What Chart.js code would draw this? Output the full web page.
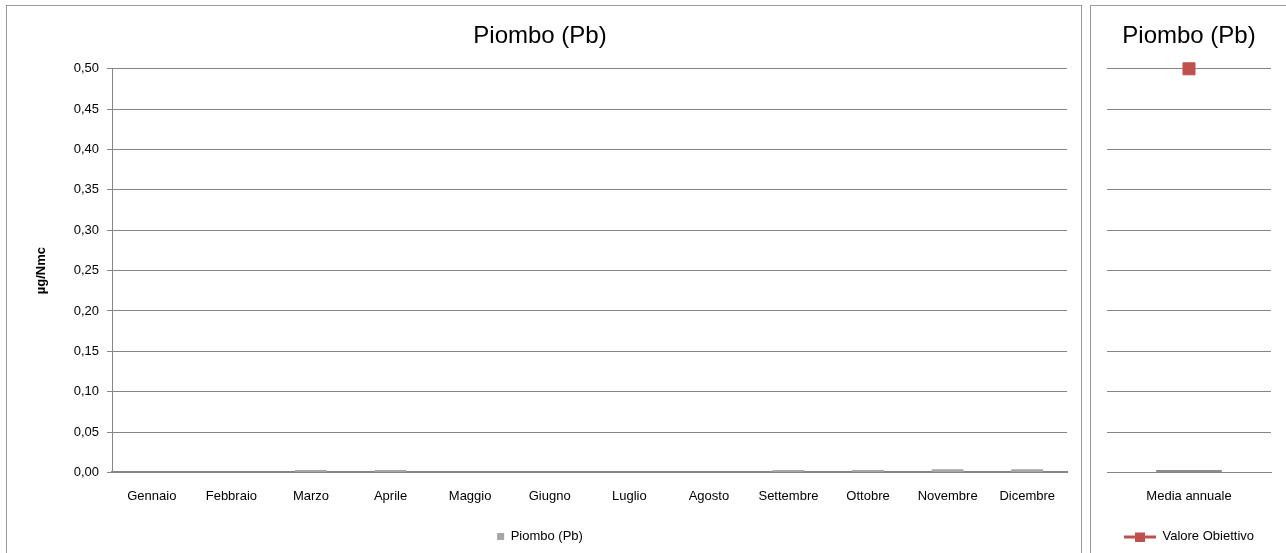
<!DOCTYPE html>
<html>
<head>
<meta charset="utf-8">
<script src="https://cdn.jsdelivr.net/npm/chart.js@4.4.1/dist/chart.umd.min.js"></script>
<style>
  html, body { margin: 0; padding: 0; background: #fff; overflow: hidden; }
  .panel { position: absolute; border: 1px solid #9a9a9a; background: #fff; }
  #p1 { left: 6px; top: 5px; width: 1074px; height: 560px; }
  #p2 { left: 1090px; top: 5px; width: 200px; height: 560px; }
  canvas { position: absolute; left: 0; top: 0; }
</style>
</head>
<body>
<div class="panel" id="p1"><canvas id="c1" width="1074" height="547"></canvas></div>
<div class="panel" id="p2"><canvas id="c2" width="200" height="547"></canvas></div>
<script>
// dati
var mesi = ["Gennaio", "Febbraio", "Marzo", "Aprile", "Maggio", "Giugno",
            "Luglio", "Agosto", "Settembre", "Ottobre", "Novembre", "Dicembre"];
var piombo = [null, null, 0.003, 0.003, null, null, null, null, 0.003, 0.003, 0.004, 0.004];
var mediaLabel = ["Media annuale"];
var mediaAnnuale = [0.003];
var valoreObiettivo = [0.5];
var yMax = 0.5, yStep = 0.05;

var FONT = "'Liberation Sans', Arial, sans-serif";
Chart.defaults.font.family = FONT;
Chart.defaults.color = "#000";
Chart.defaults.animation = false;

function fmt(v) { return v.toFixed(2).replace(".", ","); }
function extraHeight(s) { s.height += 11; }

new Chart(document.getElementById("c1"), {
    type: "bar",
    data: {
        labels: mesi,
        datasets: [{
            label: "Piombo (Pb)",
            data: piombo,
            backgroundColor: "#a6a6a6",
            categoryPercentage: 1,
            barPercentage: 0.4
        }]
    },
    options: {
        responsive: false,
        layout: { padding: { left: 6, right: 14, bottom: 0 } },
        plugins: {
            title: {
                display: true,
                text: "Piombo (Pb)",
                font: { size: 24, weight: "normal" },
                color: "#000",
                padding: { top: 16, bottom: 18 }
            },
            legend: {
                position: "bottom",
                labels: {
                    usePointStyle: true,
                    pointStyle: "rect",
                    boxWidth: 7, boxHeight: 7,
                    font: { size: 13 },
                    padding: 7
                }
            },
            tooltip: { enabled: false }
        },
        scales: {
            x: {
                afterFit: extraHeight,
                grid: { display: false },
                border: { color: "#868686", width: 2 },
                ticks: { font: { size: 13 }, padding: 8, maxRotation: 0 }
            },
            y: {
                min: 0, max: yMax,
                afterFit: function (s) { s.width = 99; },
                title: { display: true, text: "µg/Nmc", font: { size: 13, weight: "bold" }, padding: { top: 21, bottom: 4 } },
                grid: { color: "#868686", tickLength: 5 },
                border: { color: "#868686" },
                ticks: { stepSize: yStep, font: { size: 13 }, padding: 8,
                         callback: function (v) { return fmt(v); } }
            }
        }
    }
});

// icona legenda linea + quadrato
var icon = document.createElement("canvas");
icon.width = 32; icon.height = 10;
var ic = icon.getContext("2d");
ic.fillStyle = "#c0504d";
ic.fillRect(0, 4, 32, 3);
ic.fillRect(11, 1, 10, 9);

new Chart(document.getElementById("c2"), {
    data: {
        labels: mediaLabel,
        datasets: [{
            type: "bar",
            label: "Media annuale",
            data: mediaAnnuale,
            backgroundColor: "#8c8c8c",
            categoryPercentage: 1,
            barPercentage: 0.4
        }, {
            type: "line",
            label: "Valore Obiettivo",
            data: valoreObiettivo,
            borderColor: "#c0504d",
            backgroundColor: "#c0504d",
            pointStyle: "rect",
            pointRadius: 8.5,
            showLine: false,
            clip: false
        }]
    },
    options: {
        responsive: false,
        layout: { padding: { left: 16, right: 20, bottom: 0 } },
        plugins: {
            title: {
                display: true,
                text: "Piombo (Pb)",
                font: { size: 24, weight: "normal" },
                color: "#000",
                padding: { top: 16, bottom: 18 }
            },
            legend: {
                position: "bottom",
                labels: {
                    usePointStyle: true,
                    pointStyleWidth: 32,
                    font: { size: 13 },
                    padding: 7,
                    filter: function (item) { return item.text === "Valore Obiettivo"; },
                    generateLabels: function (chart) {
                        var items = Chart.defaults.plugins.legend.labels.generateLabels(chart);
                        items.forEach(function (it) { it.pointStyle = icon; });
                        return items;
                    }
                }
            },
            tooltip: { enabled: false }
        },
        scales: {
            x: {
                afterFit: extraHeight,
                grid: { display: false },
                border: { color: "#868686", width: 1 },
                ticks: { font: { size: 13 }, padding: 8, maxRotation: 0 }
            },
            y: {
                min: 0, max: yMax,
                grid: { color: "#868686", drawTicks: false },
                border: { display: false },
                ticks: { display: false, stepSize: yStep }
            }
        }
    }
});
</script>
</body>
</html>
